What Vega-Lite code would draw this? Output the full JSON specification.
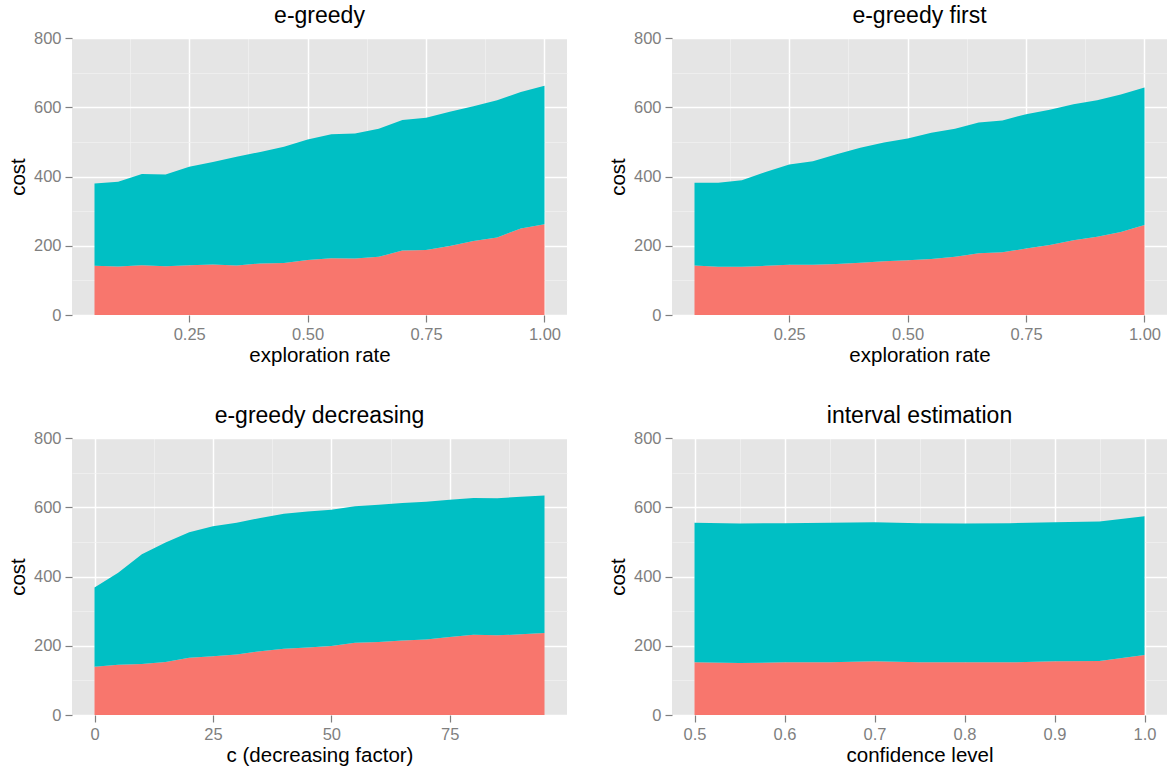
{
  "$schema": "https://vega.github.io/schema/vega-lite/v6.json",
  "padding": {"left": 8, "top": 5, "right": 0, "bottom": 0},
  "background": "white",
  "datasets": {
    "egreedy": [
      {"rate": 0.05, "exploration": 142, "exploitation": 238},
      {"rate": 0.10, "exploration": 140, "exploitation": 245},
      {"rate": 0.15, "exploration": 144, "exploitation": 263},
      {"rate": 0.20, "exploration": 141, "exploitation": 265},
      {"rate": 0.25, "exploration": 144, "exploitation": 284},
      {"rate": 0.30, "exploration": 146, "exploitation": 296},
      {"rate": 0.35, "exploration": 143, "exploitation": 314},
      {"rate": 0.40, "exploration": 149, "exploitation": 322},
      {"rate": 0.45, "exploration": 150, "exploitation": 336},
      {"rate": 0.50, "exploration": 159, "exploitation": 348},
      {"rate": 0.55, "exploration": 164, "exploitation": 358},
      {"rate": 0.60, "exploration": 163, "exploitation": 361},
      {"rate": 0.65, "exploration": 168, "exploitation": 370},
      {"rate": 0.70, "exploration": 186, "exploitation": 377},
      {"rate": 0.75, "exploration": 188, "exploitation": 382},
      {"rate": 0.80, "exploration": 199, "exploitation": 388},
      {"rate": 0.85, "exploration": 214, "exploitation": 389},
      {"rate": 0.90, "exploration": 224, "exploitation": 396},
      {"rate": 0.95, "exploration": 250, "exploitation": 394},
      {"rate": 1.00, "exploration": 262, "exploitation": 400}
    ],
    "egreedyfirst": [
      {"rate": 0.05, "exploration": 143, "exploitation": 239},
      {"rate": 0.10, "exploration": 139, "exploitation": 243},
      {"rate": 0.15, "exploration": 139, "exploitation": 250},
      {"rate": 0.20, "exploration": 142, "exploitation": 271},
      {"rate": 0.25, "exploration": 145, "exploitation": 290},
      {"rate": 0.30, "exploration": 145, "exploitation": 299},
      {"rate": 0.35, "exploration": 147, "exploitation": 317},
      {"rate": 0.40, "exploration": 151, "exploitation": 332},
      {"rate": 0.45, "exploration": 155, "exploitation": 343},
      {"rate": 0.50, "exploration": 158, "exploitation": 352},
      {"rate": 0.55, "exploration": 162, "exploitation": 364},
      {"rate": 0.60, "exploration": 168, "exploitation": 370},
      {"rate": 0.65, "exploration": 178, "exploitation": 378},
      {"rate": 0.70, "exploration": 181, "exploitation": 381},
      {"rate": 0.75, "exploration": 192, "exploitation": 388},
      {"rate": 0.80, "exploration": 202, "exploitation": 391},
      {"rate": 0.85, "exploration": 216, "exploitation": 393},
      {"rate": 0.90, "exploration": 226, "exploitation": 394},
      {"rate": 0.95, "exploration": 240, "exploitation": 397},
      {"rate": 1.00, "exploration": 260, "exploitation": 397}
    ],
    "egreedydecreasing": [
      {"c": 0, "exploration": 139, "exploitation": 229},
      {"c": 5, "exploration": 145, "exploitation": 266},
      {"c": 10, "exploration": 147, "exploitation": 317},
      {"c": 15, "exploration": 153, "exploitation": 345},
      {"c": 20, "exploration": 165, "exploitation": 363},
      {"c": 25, "exploration": 170, "exploitation": 375},
      {"c": 30, "exploration": 175, "exploitation": 380},
      {"c": 35, "exploration": 184, "exploitation": 385},
      {"c": 40, "exploration": 191, "exploitation": 390},
      {"c": 45, "exploration": 195, "exploitation": 393},
      {"c": 50, "exploration": 199, "exploitation": 394},
      {"c": 55, "exploration": 209, "exploitation": 394},
      {"c": 60, "exploration": 211, "exploitation": 396},
      {"c": 65, "exploration": 215, "exploitation": 397},
      {"c": 70, "exploration": 218, "exploitation": 398},
      {"c": 75, "exploration": 225, "exploitation": 397},
      {"c": 80, "exploration": 232, "exploitation": 395},
      {"c": 85, "exploration": 230, "exploitation": 396},
      {"c": 90, "exploration": 233, "exploitation": 397},
      {"c": 95, "exploration": 237, "exploitation": 397}
    ],
    "interval": [
      {"level": 0.50, "exploration": 152, "exploitation": 403},
      {"level": 0.55, "exploration": 150, "exploitation": 403},
      {"level": 0.60, "exploration": 152, "exploitation": 402},
      {"level": 0.65, "exploration": 152, "exploitation": 403},
      {"level": 0.70, "exploration": 155, "exploitation": 402},
      {"level": 0.75, "exploration": 152, "exploitation": 402},
      {"level": 0.80, "exploration": 152, "exploitation": 401},
      {"level": 0.85, "exploration": 152, "exploitation": 402},
      {"level": 0.90, "exploration": 155, "exploitation": 402},
      {"level": 0.95, "exploration": 156, "exploitation": 403},
      {"level": 1.00, "exploration": 173, "exploitation": 401}
    ]
  },
  "columns": 2,
  "spacing": {"row": 39, "column": 41},
  "concat": [
    {
      "data": {"name": "egreedy"},
      "transform": [{"fold": ["exploration", "exploitation"], "as": ["series", "cost"]}],
      "title": "e-greedy",
      "width": 495, "height": 277,
      "mark": {"type": "area"},
      "encoding": {
        "x": {"field": "rate", "type": "quantitative", "title": "exploration rate",
          "scale": {"domain": [0.0025, 1.0475], "nice": false, "zero": false},
          "axis": {"values": [0.125, 0.25, 0.375, 0.5, 0.625, 0.75, 0.875, 1.0], "format": ".2f",
            "labelExpr": "(datum.value * 8) % 2 === 0 ? datum.label : ''",
            "gridColor": {"condition": {"test": "(datum.value * 8) % 2 === 0", "value": "#FFFFFF"}, "value": "#F2F2F2"},
            "gridWidth": {"condition": {"test": "(datum.value * 8) % 2 === 0", "value": 1.5}, "value": 0.7},
            "tickColor": {"condition": {"test": "(datum.value * 8) % 2 === 0", "value": "#7F7F7F"}, "value": "transparent"}}},
        "y": {"field": "cost", "type": "quantitative", "stack": "zero", "title": "cost",
          "scale": {"domain": [0, 800], "nice": false},
          "axis": {"values": [0, 100, 200, 300, 400, 500, 600, 700, 800],
            "labelExpr": "datum.value % 200 === 0 ? datum.label : ''",
            "gridColor": {"condition": {"test": "datum.value % 200 === 0", "value": "#FFFFFF"}, "value": "#F2F2F2"},
            "gridWidth": {"condition": {"test": "datum.value % 200 === 0", "value": 1.5}, "value": 0.7},
            "tickColor": {"condition": {"test": "datum.value % 200 === 0", "value": "#7F7F7F"}, "value": "transparent"}}},
        "color": {"field": "series", "type": "nominal", "legend": null,
          "scale": {"domain": ["exploration", "exploitation"], "range": ["#F8766D", "#00BFC4"]}},
        "order": {"field": "series", "sort": "descending"}
      }
    },
    {
      "data": {"name": "egreedyfirst"},
      "transform": [{"fold": ["exploration", "exploitation"], "as": ["series", "cost"]}],
      "title": "e-greedy first",
      "width": 495, "height": 277,
      "mark": {"type": "area"},
      "encoding": {
        "x": {"field": "rate", "type": "quantitative", "title": "exploration rate",
          "scale": {"domain": [0.0025, 1.0475], "nice": false, "zero": false},
          "axis": {"values": [0.125, 0.25, 0.375, 0.5, 0.625, 0.75, 0.875, 1.0], "format": ".2f",
            "labelExpr": "(datum.value * 8) % 2 === 0 ? datum.label : ''",
            "gridColor": {"condition": {"test": "(datum.value * 8) % 2 === 0", "value": "#FFFFFF"}, "value": "#F2F2F2"},
            "gridWidth": {"condition": {"test": "(datum.value * 8) % 2 === 0", "value": 1.5}, "value": 0.7},
            "tickColor": {"condition": {"test": "(datum.value * 8) % 2 === 0", "value": "#7F7F7F"}, "value": "transparent"}}},
        "y": {"field": "cost", "type": "quantitative", "stack": "zero", "title": "cost",
          "scale": {"domain": [0, 800], "nice": false},
          "axis": {"values": [0, 100, 200, 300, 400, 500, 600, 700, 800],
            "labelExpr": "datum.value % 200 === 0 ? datum.label : ''",
            "gridColor": {"condition": {"test": "datum.value % 200 === 0", "value": "#FFFFFF"}, "value": "#F2F2F2"},
            "gridWidth": {"condition": {"test": "datum.value % 200 === 0", "value": 1.5}, "value": 0.7},
            "tickColor": {"condition": {"test": "datum.value % 200 === 0", "value": "#7F7F7F"}, "value": "transparent"}}},
        "color": {"field": "series", "type": "nominal", "legend": null,
          "scale": {"domain": ["exploration", "exploitation"], "range": ["#F8766D", "#00BFC4"]}},
        "order": {"field": "series", "sort": "descending"}
      }
    },
    {
      "data": {"name": "egreedydecreasing"},
      "transform": [{"fold": ["exploration", "exploitation"], "as": ["series", "cost"]}],
      "title": "e-greedy decreasing",
      "width": 495, "height": 277,
      "mark": {"type": "area"},
      "encoding": {
        "x": {"field": "c", "type": "quantitative", "title": "c (decreasing factor)",
          "scale": {"domain": [-4.75, 99.75], "nice": false, "zero": false},
          "axis": {"values": [0, 12.5, 25, 37.5, 50, 62.5, 75, 87.5], "format": "d",
            "labelExpr": "datum.value % 25 === 0 ? datum.label : ''",
            "gridColor": {"condition": {"test": "datum.value % 25 === 0", "value": "#FFFFFF"}, "value": "#F2F2F2"},
            "gridWidth": {"condition": {"test": "datum.value % 25 === 0", "value": 1.5}, "value": 0.7},
            "tickColor": {"condition": {"test": "datum.value % 25 === 0", "value": "#7F7F7F"}, "value": "transparent"}}},
        "y": {"field": "cost", "type": "quantitative", "stack": "zero", "title": "cost",
          "scale": {"domain": [0, 800], "nice": false},
          "axis": {"values": [0, 100, 200, 300, 400, 500, 600, 700, 800],
            "labelExpr": "datum.value % 200 === 0 ? datum.label : ''",
            "gridColor": {"condition": {"test": "datum.value % 200 === 0", "value": "#FFFFFF"}, "value": "#F2F2F2"},
            "gridWidth": {"condition": {"test": "datum.value % 200 === 0", "value": 1.5}, "value": 0.7},
            "tickColor": {"condition": {"test": "datum.value % 200 === 0", "value": "#7F7F7F"}, "value": "transparent"}}},
        "color": {"field": "series", "type": "nominal", "legend": null,
          "scale": {"domain": ["exploration", "exploitation"], "range": ["#F8766D", "#00BFC4"]}},
        "order": {"field": "series", "sort": "descending"}
      }
    },
    {
      "data": {"name": "interval"},
      "transform": [{"fold": ["exploration", "exploitation"], "as": ["series", "cost"]}],
      "title": "interval estimation",
      "width": 495, "height": 277,
      "mark": {"type": "area"},
      "encoding": {
        "x": {"field": "level", "type": "quantitative", "title": "confidence level",
          "scale": {"domain": [0.475, 1.025], "nice": false, "zero": false},
          "axis": {"values": [0.5, 0.55, 0.6, 0.65, 0.7, 0.75, 0.8, 0.85, 0.9, 0.95, 1.0], "format": ".1f",
            "labelExpr": "round(datum.value * 20) % 2 === 0 ? datum.label : ''",
            "gridColor": {"condition": {"test": "round(datum.value * 20) % 2 === 0", "value": "#FFFFFF"}, "value": "#F2F2F2"},
            "gridWidth": {"condition": {"test": "round(datum.value * 20) % 2 === 0", "value": 1.5}, "value": 0.7},
            "tickColor": {"condition": {"test": "round(datum.value * 20) % 2 === 0", "value": "#7F7F7F"}, "value": "transparent"}}},
        "y": {"field": "cost", "type": "quantitative", "stack": "zero", "title": "cost",
          "scale": {"domain": [0, 800], "nice": false},
          "axis": {"values": [0, 100, 200, 300, 400, 500, 600, 700, 800],
            "labelExpr": "datum.value % 200 === 0 ? datum.label : ''",
            "gridColor": {"condition": {"test": "datum.value % 200 === 0", "value": "#FFFFFF"}, "value": "#F2F2F2"},
            "gridWidth": {"condition": {"test": "datum.value % 200 === 0", "value": 1.5}, "value": 0.7},
            "tickColor": {"condition": {"test": "datum.value % 200 === 0", "value": "#7F7F7F"}, "value": "transparent"}}},
        "color": {"field": "series", "type": "nominal", "legend": null,
          "scale": {"domain": ["exploration", "exploitation"], "range": ["#F8766D", "#00BFC4"]}},
        "order": {"field": "series", "sort": "descending"}
      }
    }
  ],
  "resolve": {"scale": {"color": "shared"}},
  "config": {
    "font": "Liberation Sans",
    "view": {"fill": "#E5E5E5", "stroke": null},
    "title": {"fontSize": 23, "fontWeight": "normal", "color": "#000000", "anchor": "middle", "frame": "group", "offset": 2},
    "axis": {"domain": false, "tickSize": 7, "tickWidth": 1.2, "labelColor": "#7F7F7F", "labelFontSize": 16.5, "labelPadding": 4,
      "titleFontSize": 20.5, "titleFontWeight": "normal", "titleColor": "#000000", "labelFlush": false, "labelOverlap": false},
    "axisY": {"titlePadding": 5},
    "axisX": {"titlePadding": 3}
  }
}
